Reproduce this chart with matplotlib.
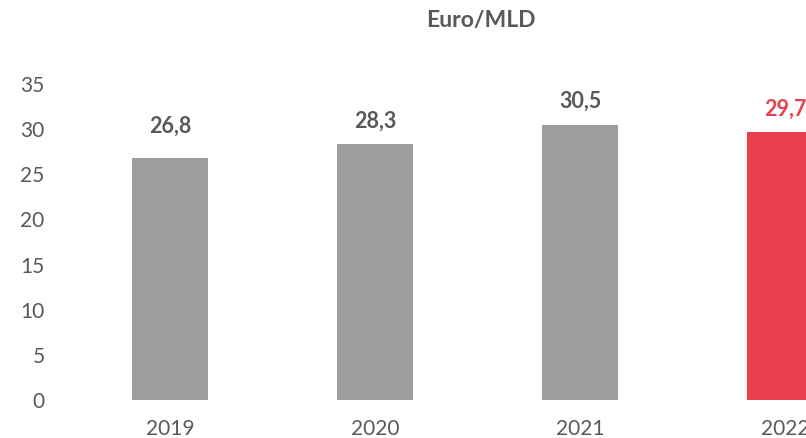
import matplotlib
matplotlib.use("Agg")
import matplotlib.pyplot as plt

years = ["2019", "2020", "2021", "2022"]
values = [26.8, 28.3, 30.5, 29.7]
labels = ["26,8", "28,3", "30,5", "29,7"]
yticks = [0, 5, 10, 15, 20, 25, 30, 35]

gray = "#9d9d9b"
red = "#e8404c"
textc = "#595959"
colors = [gray, gray, gray, red]
label_colors = [textc, textc, textc, red]

plt.rcParams['font.family'] = ['Lato', 'DejaVu Sans']

W, H = 806, 438
fig = plt.figure(figsize=(W / 100, H / 100), dpi=100)
left_px, right_px = 60, 806
bottom_px, top_px = 400, 66
ax = fig.add_axes([left_px / W, 1 - bottom_px / H, (right_px - left_px) / W, (bottom_px - top_px) / H])

x = list(range(len(years)))
ax.bar(x, values, width=0.37, color=colors)
spacing = 205
ax.set_xlim((left_px - 170) / spacing, (right_px - 170) / spacing)
ax.set_ylim(0, (bottom_px - top_px) / 9.03)
ax.set_yticks(yticks)
ax.set_yticklabels([str(t) for t in yticks], fontsize=15, color=textc)
ax.set_xticks(x)
ax.set_xticklabels(years, fontsize=15, color=textc)
ax.tick_params(axis='both', length=0)
ax.tick_params(axis='x', pad=14)
ax.tick_params(axis='y', pad=11)
for s in ax.spines.values():
    s.set_visible(False)

for i, (xi, v, lab, c) in enumerate(zip(x, values, labels, label_colors)):
    off = 15 if i == 0 else 9
    ax.annotate(lab, (xi, v), xytext=(0, off), textcoords='offset points',
                ha='center', va='bottom', fontsize=15.5, fontweight='bold', color=c)

fig.text(481 / W, 1 - 20 / H, "Euro/MLD", ha='center', va='center',
         fontsize=16.5, fontweight='bold', color=textc)

fig.savefig("out.png", dpi=100)
